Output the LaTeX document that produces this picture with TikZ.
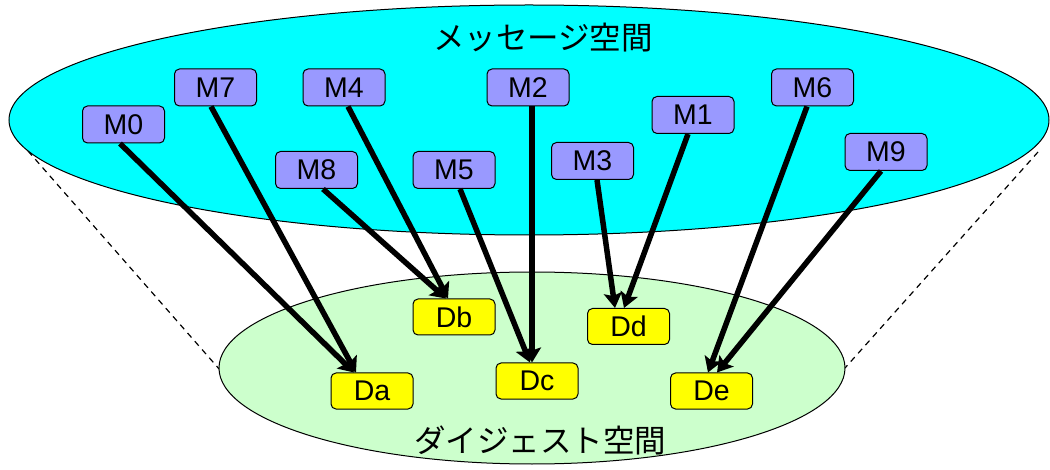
\documentclass[tikz,border=0pt]{standalone}
\usepackage{fontspec}
\setmainfont{Liberation Sans}
\newfontfamily\jpfont{Noto Sans CJK JP}
\usetikzlibrary{arrows.meta,calc}
\definecolor{mspace}{HTML}{00FFFF}
\definecolor{dspace}{HTML}{CCFFCC}
\definecolor{mfill}{HTML}{9999FF}
\definecolor{dfill}{HTML}{FFFF00}
\tikzset{
  mbox/.style={draw=black, line width=1pt, fill=mfill, rounded corners=5pt, minimum width=82pt, minimum height=37pt, inner sep=0pt, font=\fontsize{28.5}{28.5}\selectfont},
  dbox/.style={draw=black, line width=1pt, fill=dfill, rounded corners=5pt, minimum width=82pt, minimum height=36pt, inner sep=0pt, font=\fontsize{28.5}{28.5}\selectfont},
  hasharrow/.style={line width=5.5pt, -{Stealth[length=15pt,width=18pt,inset=3pt]}},
  guide/.style={line width=1.2pt, dash pattern=on 6pt off 5pt},
  spacelabel/.style={font=\jpfont\fontsize{31.5}{31.5}\selectfont, inner sep=0pt},
}
\begin{document}
\begin{tikzpicture}[x=1pt,y=-1pt]
\useasboundingbox (0,0) rectangle (1050,470);
% guide lines
\coordinate (gl1) at (28,151);
\coordinate (gl2) at (220,370);
\coordinate (gr1) at (1038,152);
\coordinate (gr2) at (845,368);
\draw[guide] (gl1) -- (gl2);
\draw[guide] (gr1) -- (gr2);
% spaces
\draw[fill=mspace, line width=1pt] (529,120) ellipse [x radius=520, y radius=115];
\draw[fill=dspace, line width=1pt] (532,368) ellipse [x radius=313, y radius=96];
\node[spacelabel] (mt) at (543,38) {メッセージ空間};
\node[spacelabel] (dt) at (540,440) {ダイジェスト空間};
% message nodes
\node[mbox] (M0) at (123.5,124.5) {M0};
\node[mbox] (M7) at (215.5,87.5) {M7};
\node[mbox] (M4) at (344,87.5) {M4};
\node[mbox] (M2) at (528,87.5) {M2};
\node[mbox] (M8) at (316.5,170) {M8};
\node[mbox] (M5) at (454,170) {M5};
\node[mbox] (M3) at (592.5,161) {M3};
\node[mbox] (M1) at (693,115) {M1};
\node[mbox] (M6) at (812.5,87.5) {M6};
\node[mbox] (M9) at (886,152) {M9};
% digest nodes
\node[dbox] (Da) at (372,391) {Da};
\node[dbox] (Db) at (454,317) {Db};
\node[dbox] (Dc) at (537,381) {Dc};
\node[dbox] (Dd) at (628.5,326.5) {Dd};
\node[dbox] (De) at (711.5,391) {De};
% arrows
\draw[hasharrow] ([xshift=-3.5pt]M0.south) -- ([xshift=-18pt]Da.north);
\draw[hasharrow] ([xshift=-4.5pt]M7.south) -- ([xshift=-16pt]Da.north);
\draw[hasharrow] ([xshift=4pt]M4.south) -- ([xshift=-6pt]Db.north);
\draw[hasharrow] ([xshift=6.5pt]M8.south) -- ([xshift=-8pt]Db.north);
\draw[hasharrow] ([xshift=4pt]M2.south) -- ([xshift=-5pt]Dc.north);
\draw[hasharrow] ([xshift=6pt]M5.south) -- ([xshift=-7pt]Dc.north);
\draw[hasharrow] ([xshift=4.5pt]M3.south) -- ([xshift=-13.5pt]Dd.north);
\draw[hasharrow] ([xshift=-5pt]M1.south) -- ([xshift=-4.5pt]Dd.north);
\draw[hasharrow] ([xshift=-5.5pt]M6.south) -- ([xshift=-3.5pt]De.north);
\draw[hasharrow] ([xshift=-5pt]M9.south) -- ([xshift=5.5pt]De.north);
\end{tikzpicture}
\end{document}
